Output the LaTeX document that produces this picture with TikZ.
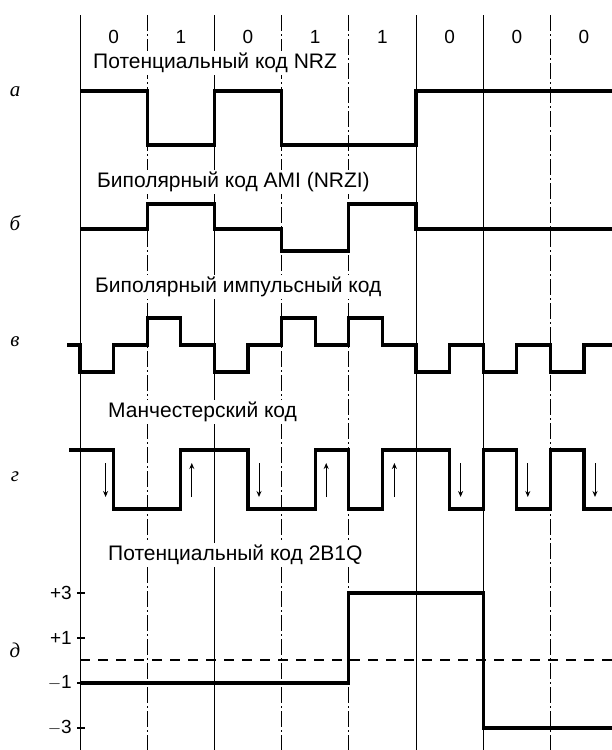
\documentclass[tikz,border=0pt]{standalone}
\usepackage{fontspec}
\setmainfont{Liberation Sans}
\newfontfamily\rowfont{Liberation Serif}
\usetikzlibrary{arrows.meta}
\tikzset{
  bitl/.style={line width=1pt},
  halfl/.style={bitl, dash pattern=on 16pt off 3pt on 2pt off 3pt},
  wave/.style={line width=3.2pt, line join=miter},
  codet/.style={anchor=west, fill=white, inner sep=2pt, font=\fontsize{21}{24}\selectfont},
  dig/.style={font=\fontsize{19}{22}\selectfont},
  rowl/.style={font=\fontsize{21}{24}\rowfont\itshape},
  lvl/.style={anchor=east, inner sep=1pt, font=\fontsize{19}{22}\selectfont},
  tick/.style={line width=1.2pt},
  zerol/.style={line width=1.4pt, dash pattern=on 10pt off 8pt},
  dirpre/.style={-{Stealth[length=6pt,width=5pt]}, line width=1pt},
}
\begin{document}
\begin{tikzpicture}[x=1pt,y=-1pt]
\useasboundingbox (0,0) rectangle (612,750);
% ---------------- bit boundaries
\foreach \i in {0,2,5,6} \draw[bitl] ({80+67.2*\i},15) -- ({80+67.2*\i},750);
\foreach \i in {1,3,4,7} \draw[halfl] ({80+67.2*\i},15) -- ({80+67.2*\i},750);
\foreach \b [count=\i from 0] in {0,1,0,1,1,0,0,0} \node[dig] (bit\i) at ({113.6+67.2*\i},37) {\b};
% ---------------- code titles and row letters
\node[codet] (tnrz) at (91,63) {Потенциальный код NRZ};
\node[codet] (tami) at (95,182) {Биполярный код AMI (NRZI)};
\node[codet] (tbip) at (93,287) {Биполярный импульсный код};
\node[codet] (tman) at (106,412) {Манчестерский код};
\node[codet] (tq) at (106,555) {Потенциальный код 2B1Q};
\node[rowl] (ra) at (15,92) {а};
\node[rowl] (rb) at (15,223) {б};
\node[rowl] (rv) at (15,342) {в};
\node[rowl] (rg) at (15,477) {г};
\node[rowl] (rd) at (15,650) {д};
% ---------------- (а) NRZ
\draw[wave] (80,91) -- (147.2,91) -- (147.2,145) -- (214.4,145) -- (214.4,91) -- (281.6,91) -- (281.6,145) -- (416,145) -- (416,91) -- (612,91);
% ---------------- (б) AMI
\draw[wave] (80,229) -- (147.2,229) -- (147.2,204) -- (214.4,204) -- (214.4,229) -- (281.6,229) -- (281.6,251) -- (348.8,251) -- (348.8,204) -- (416,204) -- (416,229) -- (612,229);
% ---------------- (в) bipolar pulses
\draw[wave] (67,345) -- (80,345) -- (80,372) -- (113.6,372) -- (113.6,345) -- (147.2,345) -- (147.2,318) -- (180.8,318) -- (180.8,345) -- (214.4,345) -- (214.4,372) -- (248,372) -- (248,345) -- (281.6,345) -- (281.6,318) -- (315.2,318) -- (315.2,345) -- (348.8,345) -- (348.8,318) -- (382.4,318) -- (382.4,345) -- (416,345) -- (416,372) -- (449.6,372) -- (449.6,345) -- (483.2,345) -- (483.2,372) -- (516.8,372) -- (516.8,345) -- (550.4,345) -- (550.4,372) -- (584,372) -- (584,345) -- (612,345);
% ---------------- (г) Manchester
\draw[wave] (69,450) -- (113.6,450) -- (113.6,509) -- (180.8,509) -- (180.8,450) -- (248,450) -- (248,509) -- (315.2,509) -- (315.2,450) -- (348.8,450) -- (348.8,509) -- (382.4,509) -- (382.4,450) -- (449.6,450) -- (449.6,509) -- (483.2,509) -- (483.2,450) -- (516.8,450) -- (516.8,509) -- (550.4,509) -- (550.4,450) -- (584,450) -- (584,509) -- (612,509);
\foreach \x/\a/\b in {105.6/463/497, 191.8/497/463, 259/463/497, 326.2/497/463, 394.4/497/463, 460.6/463/497, 527.8/463/497, 595/463/497}
  \draw[dirpre] (\x,\a) -- (\x,\b);
% ---------------- (д) 2B1Q
\foreach \y/\t in {593/+3, 638/+1, 683/{$-$1}, 728/{$-$3}} {
  \draw[tick] (77,\y) -- (85,\y);
  \node[lvl] at (73,\y) {\t};
}
\draw[zerol] (80,660) -- (612,660);
\draw[wave] (80,683) -- (348.8,683) -- (348.8,593) -- (483.2,593) -- (483.2,728) -- (612,728);
\end{tikzpicture}
\end{document}
